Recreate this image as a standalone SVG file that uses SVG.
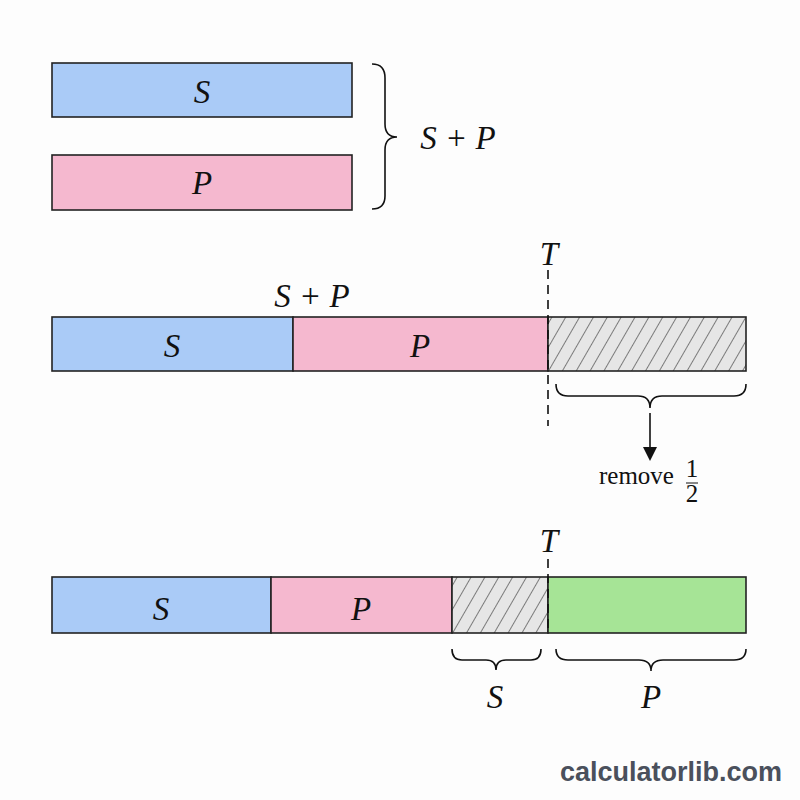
<svg xmlns="http://www.w3.org/2000/svg" width="800" height="800" viewBox="0 0 800 800">
<style>
.box{stroke:#222;stroke-width:1.6}
.s{fill:#aacbf7}
.p{fill:#f5b8cf}
.g{fill:#a6e496}
.h{fill:url(#hatch)}
.m{font-family:"Liberation Serif",serif;font-style:italic;font-size:33px;fill:#111;text-anchor:middle}
.r{font-family:"Liberation Serif",serif;font-size:25px;fill:#111}
.br{fill:none;stroke:#111;stroke-width:1.6}
.dash{stroke:#111;stroke-width:1.6;stroke-dasharray:9,6;fill:none}
</style>
<defs>
<pattern id="hatch" patternUnits="userSpaceOnUse" width="12" height="12" patternTransform="rotate(30)">
<rect width="12" height="12" fill="#e6e6e6"/>
<line x1="0" y1="0" x2="0" y2="12" stroke="#333" stroke-width="1.2"/>
</pattern>
<marker id="ah" markerWidth="14" markerHeight="14" refX="10" refY="7" orient="auto" markerUnits="userSpaceOnUse" viewBox="0 0 14 14">
<path d="M0,0 L14,7 L0,14 z" fill="#111"/>
</marker>
</defs>
<rect width="800" height="800" fill="#fdfdfd"/>

<g id="top-S"><rect class="box s" x="52" y="63" width="300" height="54"/><text class="m" x="202" y="103">S</text></g>
<g id="top-P"><rect class="box p" x="52" y="155" width="300" height="55"/><text class="m" x="202" y="194">P</text></g>
<g id="top-sum"><text class="m" x="458" y="149">S + P</text></g>

<g id="mid-S"><rect class="box s" x="52" y="317" width="241" height="54"/><text class="m" x="172" y="357">S</text></g>
<g id="mid-P"><rect class="box p" x="293" y="317" width="255" height="54"/><text class="m" x="420" y="357">P</text></g>
<g id="mid-H"><rect class="box h" x="548" y="317" width="198" height="54"/></g>
<g id="mid-labels"><text class="m" x="312" y="307">S + P</text><text class="m" x="549" y="265">T</text></g>
<g id="remove"><text class="r" x="599" y="484">remove</text><text class="r" x="692" y="477" text-anchor="middle" font-size="14">1</text><line x1="686" y1="483" x2="698" y2="483" stroke="#111" stroke-width="1"/><text class="r" x="692" y="502" text-anchor="middle" font-size="14">2</text></g>

<g id="bot-S"><rect class="box s" x="52" y="577" width="219" height="56"/><text class="m" x="161" y="620">S</text></g>
<g id="bot-P"><rect class="box p" x="271" y="577" width="181" height="56"/><text class="m" x="361" y="620">P</text></g>
<g id="bot-H"><rect class="box h" x="452" y="577" width="96" height="56"/></g>
<g id="bot-G"><rect class="box g" x="548" y="577" width="198" height="56"/></g>
<g id="bot-labels"><text class="m" x="549" y="552">T</text><text class="m" x="495" y="708">S</text><text class="m" x="651" y="708">P</text></g>

<g id="connectors">
<path class="br" d="M372,64 Q385,64 385,78 L385,124 Q385,137 397,137 Q385,137 385,150 L385,196 Q385,209 372,209"/>
<line class="dash" x1="548" y1="270" x2="548" y2="426"/>
<path class="br" d="M556,384 Q556,396 568,396 L638,396 Q650,396 650,408 Q650,396 662,396 L734,396 Q746,396 746,384"/>
<line x1="650" y1="413" x2="650" y2="457" stroke="#111" stroke-width="1.6" marker-end="url(#ah)"/>
<line class="dash" x1="548" y1="559" x2="548" y2="633"/>
<path class="br" d="M452,649 Q452,660 462,660 L486,660 Q496,660 496,670 Q496,660 506,660 L531,660 Q541,660 541,649"/>
<path class="br" d="M556,649 Q556,660 568,660 L639,660 Q651,660 651,671 Q651,660 663,660 L734,660 Q746,660 746,649"/>
</g>

<text x="671" y="781" font-family="Liberation Sans,Arial,sans-serif" font-weight="bold" font-size="27" fill="#4a505c" text-anchor="middle">calculatorlib.com</text>
</svg>
